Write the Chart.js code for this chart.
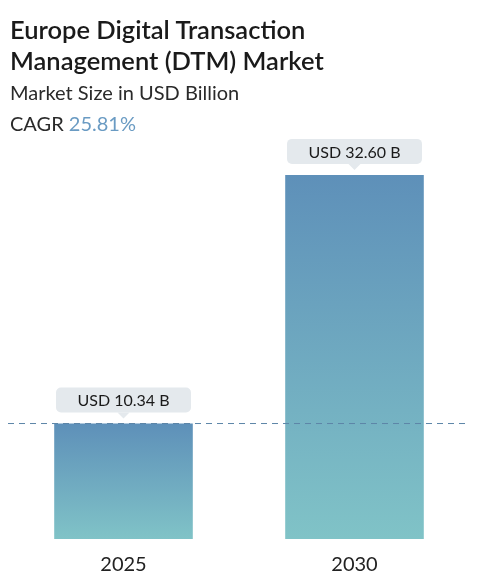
<!DOCTYPE html>
<html lang="en">
<head>
<meta charset="UTF-8">
<title>Europe DTM Market</title>
<script src="https://cdn.jsdelivr.net/npm/chart.js"></script>
<style>
  body { margin:0; background:#fff; font-family: Lato, "Open Sans", sans-serif; }
  #wrap { position:relative; width:478px; height:583px; }
  #head { position:absolute; left:10px; top:14px; color:#1a1a1a; }
  h1 { margin:0; font-size:25.5px; font-weight:600; line-height:31px; }
  .sub { font-size:20px; line-height:29px; margin-top:2px; color:#2a2a2a; }
  .cagr span { color:#6a9bc3; }
  canvas { position:absolute; left:0; top:0; }
</style>
</head>
<body>
<div id="wrap">
  <canvas id="chart" width="478" height="583"></canvas>
  <div id="head">
    <h1>Europe Digital Transaction<br>Management (DTM) Market</h1>
    <div class="sub">Market Size in USD Billion</div>
    <div class="sub cagr">CAGR <span>25.81%</span></div>
  </div>
</div>
<script>
const years = ['2025', '2030'];
const values = [10.34, 32.60];
const valueLabels = ['USD 10.34 B', 'USD 32.60 B'];

const ctx = document.getElementById('chart').getContext('2d');

const extras = {
  id: 'extras',
  afterDatasetsDraw(chart) {
    const c = chart.ctx;
    const meta = chart.getDatasetMeta(0);
    const yLine = chart.scales.y.getPixelForValue(values[0]);
    c.save();
    c.strokeStyle = '#5d86a8';
    c.lineWidth = 1;
    c.setLineDash([6, 5]);
    c.beginPath();
    c.moveTo(8, yLine); c.lineTo(470, yLine);
    c.stroke();
    c.setLineDash([]);
    c.font = '16px Lato, "Open Sans", sans-serif';
    c.textAlign = 'center';
    c.textBaseline = 'middle';
    meta.data.forEach((bar, i) => {
      const w = 135, h = 25;
      const x = bar.x - w / 2, y = bar.y - 36;
      c.fillStyle = '#e4e9ed';
      c.beginPath();
      c.roundRect(x, y, w, h, 5);
      c.fill();
      c.beginPath();
      c.moveTo(bar.x - 6, y + h); c.lineTo(bar.x + 6, y + h); c.lineTo(bar.x, y + h + 6);
      c.fill();
      c.fillStyle = '#1a1a1a';
      c.fillText(valueLabels[i], bar.x, y + h / 2 + 1);
    });
    c.restore();
  }
};

new Chart(ctx, {
  type: 'bar',
  data: {
    labels: years,
    datasets: [{
      data: values,
      backgroundColor(context) {
        const chart = context.chart;
        const area = chart.chartArea;
        if (!area) return '#6aa3bf';
        const top = chart.scales.y.getPixelForValue(values[context.dataIndex]);
        const g = chart.ctx.createLinearGradient(0, top, 0, area.bottom);
        g.addColorStop(0, '#5e90b9');
        g.addColorStop(1, '#80c3c7');
        return g;
      },
      barPercentage: 0.6,
      categoryPercentage: 1
    }]
  },
  options: {
    responsive: false,
    animation: false,
    layout: { padding: { top: 150, left: 8, right: 8, bottom: 0 } },
    plugins: { legend: { display: false }, tooltip: { enabled: false } },
    scales: {
      x: {
        grid: { display: false },
        border: { display: false },
        ticks: { color: '#222', font: { size: 20, family: 'Lato, "Open Sans", sans-serif' }, padding: 6 }
      },
      y: { display: false, min: 0, max: 34.83 }
    }
  },
  plugins: [extras]
});
</script>
</body>
</html>
